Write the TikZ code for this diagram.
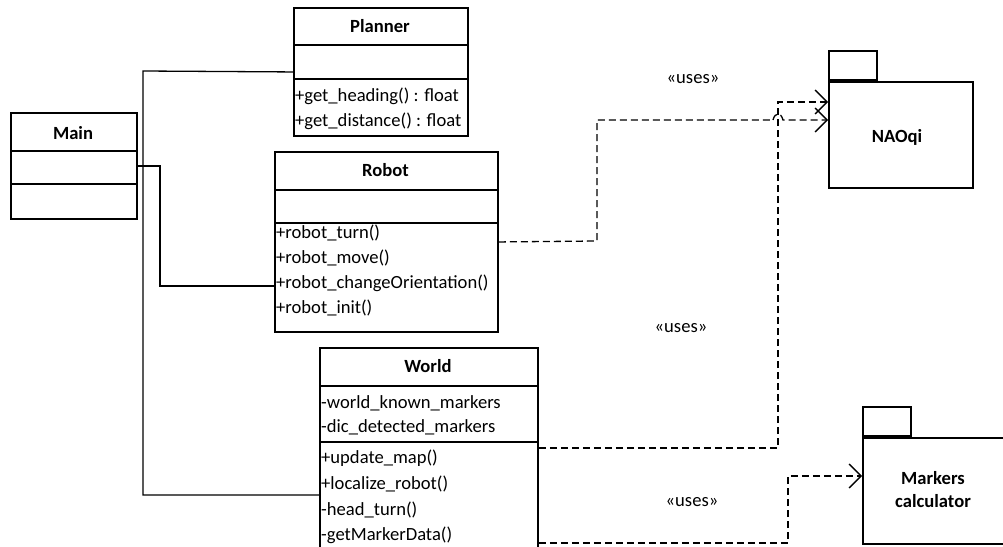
\documentclass[tikz,border=0pt]{standalone}
\usepackage{fontspec}
\setmainfont{Carlito}
\usetikzlibrary{arrows.meta}
\begin{document}
\begin{tikzpicture}[x=1pt,y=-1pt,
  box/.style={draw, line width=1.9pt, inner sep=0pt, anchor=north west},
  divider/.style={line width=1.9pt},
  member/.style={anchor=base west, inner sep=0pt, font=\fontsize{18.6}{22}\selectfont},
  classname/.style={inner sep=0pt, font=\fontsize{18.6}{22}\selectfont\bfseries},
  label/.style={inner sep=0pt, font=\fontsize{18.6}{22}\selectfont},
  assoc/.style={line width=1.3pt},
  uses/.style={line width=1.3pt, dash pattern=on 7pt off 4pt,
    -{Straight Barb[length=12pt,width=24pt]}},
  usesline/.style={line width=1.3pt, dash pattern=on 7pt off 4pt}
]
\useasboundingbox (0,0) rectangle (1003,546);
\clip (0,0) rectangle (1003,546);

% ---- Planner ----
\node[box, minimum width=174pt, minimum height=128pt] (planner) at (293,7) {};
\draw[divider] (planner.west |- 0,45) -- (planner.east |- 0,45);
\draw[divider] (planner.west |- 0,79) -- (planner.east |- 0,79);
\node[classname] (plannerT) at (380,26) {Planner};
\node[member] (p1) at (295,101) {+get\_heading() : float};
\node[member] (p2) at (295,126) {+get\_distance() : float};

% ---- Main ----
\node[box, minimum width=126pt, minimum height=106pt] (main) at (10,112) {};
\draw[divider] (main.west |- 0,151) -- (main.east |- 0,151);
\draw[divider] (main.west |- 0,184) -- (main.east |- 0,184);
\node[classname] (mainT) at (73,133) {Main};

% ---- Robot ----
\node[box, minimum width=223pt, minimum height=180pt] (robot) at (274,151) {};
\draw[divider] (robot.west |- 0,190) -- (robot.east |- 0,190);
\draw[divider] (robot.west |- 0,223) -- (robot.east |- 0,223);
\node[classname] (robotT) at (385.5,170) {Robot};
\node[member] (r1) at (276,238) {+robot\_turn()};
\node[member] (r2) at (276,263) {+robot\_move()};
\node[member] (r3) at (276,288) {+robot\_changeOrientation()};
\node[member] (r4) at (276,313) {+robot\_init()};

% ---- World ----
\node[box, minimum width=218pt, minimum height=213pt] (world) at (319,347) {};
\draw[divider] (world.west |- 0,386) -- (world.east |- 0,386);
\draw[divider] (world.west |- 0,442) -- (world.east |- 0,442);
\node[classname] (worldT) at (428,366) {World};
\node[member] (w1) at (321,408) {-world\_known\_markers};
\node[member] (w2) at (321,432) {-dic\_detected\_markers};
\node[member] (w3) at (321,463) {+update\_map()};
\node[member] (w4) at (321,489) {+localize\_robot()};
\node[member] (w5) at (321,515) {-head\_turn()};
\node[member] (w6) at (321,540) {-getMarkerData()};

% ---- Packages ----
\node[box, minimum width=144pt, minimum height=106pt] (naoqi) at (828,81) {};
\node[draw, line width=1.9pt, inner sep=0pt, anchor=south west,
  minimum width=48pt, minimum height=29pt] (naoqitab) at (naoqi.north west) {};
\node[classname] (naoqiT) at (897,137) {NAOqi};

\node[box, minimum width=150pt, minimum height=106pt] (markers) at (862,437) {};
\node[draw, line width=1.9pt, inner sep=0pt, anchor=south west,
  minimum width=48pt, minimum height=29pt] (markerstab) at (markers.north west) {};
\node[classname, align=center] (markersT) at (933,490)
  {Markers\\[1pt]calculator};

% ---- Associations ----
\draw[assoc] (planner.west) -- (143,71) -- (143,495) -- (world.west |- 0,495);
\draw[assoc] (main.east |- 0,166) -- (160,166) -- (160,286) -- (robot.west |- 0,286);

% ---- Dependencies ----
\coordinate (hopA) at (773,120);
\coordinate (hopB) at (783,120);
\draw[usesline] (robot.east) -- (597,241) -- (597,120) -- (hopA);
\draw[uses] (hopA) .. controls (775,112) and (781,112) .. (hopB) -- (naoqi.west |- 0,120);
\draw[uses] (world.east |- 0,448) -- (778,448) -- (778,102) -- (naoqi.west |- 0,102);
\draw[uses] (world.east |- 0,543) -- (788,543) -- (788,476) -- (markers.west |- 0,476);

\node[label] (uses1) at (693,79) {«uses»};
\node[label] (uses2) at (681,328) {«uses»};
\node[label] (uses3) at (692,502) {«uses»};
\end{tikzpicture}
\end{document}
